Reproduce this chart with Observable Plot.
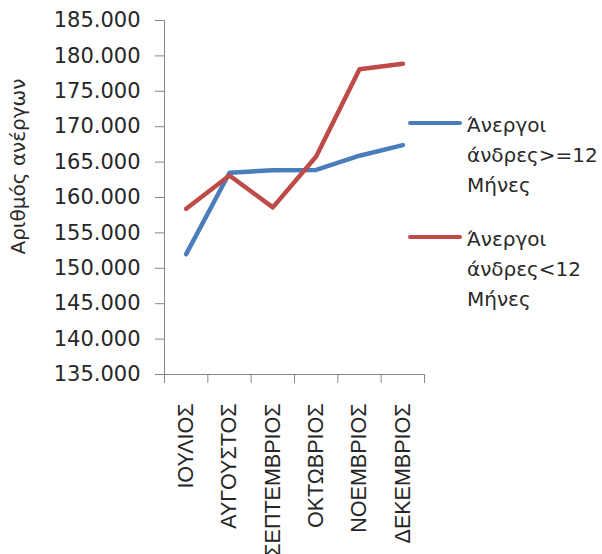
<!DOCTYPE html>
<html>
<head>
<meta charset="utf-8">
<script src="https://cdn.jsdelivr.net/npm/d3@7"></script>
<script src="https://cdn.jsdelivr.net/npm/@observablehq/plot@0.6"></script>
<style>
  html, body { margin: 0; padding: 0; background: #fff; }
  #wrap { position: relative; width: 602px; height: 554px; overflow: hidden; }
  .entry { position: absolute; left: 408px; font-family: "DejaVu Sans", sans-serif; font-size: 20px; line-height: 30px; color: #2a2a2a; }
  .entry .sw { position: absolute; left: 0; top: 11px; width: 54px; height: 4px; border-radius: 2px; }
  .entry .tx { margin-left: 59px; white-space: nowrap; }
</style>
</head>
<body>
<div id="wrap"></div>
<script>
const months = ["ΙΟΥΛΙΟΣ", "ΑΥΓΟΥΣΤΟΣ", "ΣΕΠΤΕΜΒΡΙΟΣ", "ΟΚΤΩΒΡΙΟΣ", "ΝΟΕΜΒΡΙΟΣ", "ΔΕΚΕΜΒΡΙΟΣ"];
const longTerm = [152000, 163500, 163850, 163900, 165900, 167400];
const shortTerm = [158400, 163100, 158600, 165800, 178100, 178900];
const seriesNames = ["Άνεργοι άνδρες>=12 Μήνες", "Άνεργοι άνδρες<12 Μήνες"];
const seriesLines = [["Άνεργοι", "άνδρες>=12", "Μήνες"], ["Άνεργοι", "άνδρες<12", "Μήνες"]];
const seriesColors = ["#4A7EBB", "#BE4B48"];
const yTicks = [135000, 140000, 145000, 150000, 155000, 160000, 165000, 170000, 175000, 180000, 185000];
const yTitle = "Αριθμός ανέργων";

const fmtThousands = v => d3.format(",")(v).replace(/,/g, ".");

const data = [];
months.forEach((m, i) => {
  data.push({series: seriesNames[0], i, v: longTerm[i]});
  data.push({series: seriesNames[1], i, v: shortTerm[i]});
});

const gray = "#868686";
const chart = Plot.plot({
  width: 602,
  height: 554,
  marginLeft: 164,
  marginRight: 178,
  marginTop: 20,
  marginBottom: 180,
  style: {fontFamily: "DejaVu Sans, sans-serif", fontSize: "21px", background: "#fff", color: "#2a2a2a", overflow: "visible"},
  x: {type: "linear", domain: [0, months.length]},
  y: {domain: [yTicks[0], yTicks[yTicks.length - 1]]},
  color: {domain: seriesNames, range: seriesColors},
  marks: [
    Plot.axisY({ticks: yTicks, tickFormat: fmtThousands, tickSize: 9, tickPadding: 15, stroke: gray, fill: "#262626", label: null, fontSize: 21}),
    Plot.axisX({ticks: d3.range(0, months.length + 1), tickFormat: () => "", tickSize: 9, stroke: gray, label: null}),
    Plot.axisX({ticks: months.map((m, i) => i + 0.5), tickFormat: t => months[Math.round(t - 0.5)], tickSize: 0, tickPadding: 29, tickRotate: -90, fill: "#262626", label: null, fontFamily: "Liberation Sans, Arial, sans-serif", fontSize: 21.5}),
    Plot.ruleX([0], {stroke: gray, strokeWidth: 1}),
    Plot.ruleY([yTicks[0]], {stroke: gray, strokeWidth: 1}),
    Plot.line(data, {x: d => d.i + 0.5, y: "v", z: "series", stroke: "series", strokeWidth: 4.5, strokeLinejoin: "round", strokeLinecap: "round"}),
    Plot.text([yTitle], {frameAnchor: "left", textAnchor: "middle", dx: -146, dy: -31, rotate: -90, fontSize: 20, fill: "#2a2a2a"})
  ]
});
const wrap = document.getElementById("wrap");
wrap.appendChild(chart);

const tops = [110, 224];
seriesLines.forEach((lines, k) => {
  const e = document.createElement("div");
  e.className = "entry";
  e.style.top = tops[k] + "px";
  const sw = document.createElement("div");
  sw.className = "sw";
  sw.style.background = seriesColors[k];
  const tx = document.createElement("div");
  tx.className = "tx";
  tx.innerHTML = lines.join("<br>");
  e.appendChild(sw);
  e.appendChild(tx);
  wrap.appendChild(e);
});
</script>
</body>
</html>
